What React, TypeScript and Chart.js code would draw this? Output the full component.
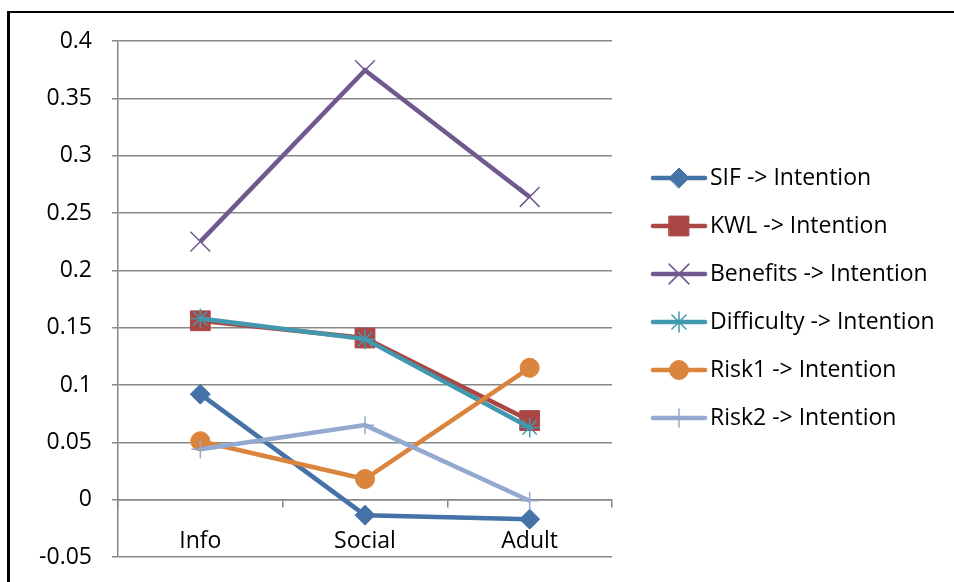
import { useEffect, useRef } from "react";
import { Chart, registerables } from "chart.js";
import { drawPoint } from "chart.js/helpers";

Chart.register(...registerables);

// Categories and path coefficients per segment
const categories = ["Info", "Social", "Adult"];
const seriesLabels = [
  "SIF -> Intention",
  "KWL -> Intention",
  "Benefits -> Intention",
  "Difficulty -> Intention",
  "Risk1 -> Intention",
  "Risk2 -> Intention",
];
const sifValues = [0.092, -0.0135, -0.017];
const kwlValues = [0.156, 0.141, 0.069];
const benefitsValues = [0.225, 0.3745, 0.264];
const difficultyValues = [0.158, 0.14, 0.063];
const risk1Values = [0.051, 0.018, 0.115];
const risk2Values = [0.044, 0.065, -0.001];
const yTickValues = [-0.05, 0, 0.05, 0.1, 0.15, 0.2, 0.25, 0.3, 0.35, 0.4];
const yTickLabels = ["-0.05", "0", "0.05", "0.1", "0.15", "0.2", "0.25", "0.3", "0.35", "0.4"];

const FONT = "'Open Sans', 'Liberation Sans', sans-serif";
const FONT_SIZE = 23;
const GRID = "#878787";

const seriesStyles = [
  { color: "#4572A7", pointStyle: "rectRot", radius: 10, pw: 1 },
  { color: "#AA4643", pointStyle: "rect", radius: 14, pw: 1 },
  { color: "#71588F", pointStyle: "crossRot", radius: 14, pw: 1.5 },
  { color: "#4198AF", pointStyle: "star", radius: 10, pw: 1.5 },
  { color: "#DB843D", pointStyle: "circle", radius: 9.5, pw: 1 },
  { color: "#93A9CF", pointStyle: "cross", radius: 9, pw: 1.5 },
];

const seriesValues = [sifValues, kwlValues, benefitsValues, difficultyValues, risk1Values, risk2Values];

// Legend drawn at the right side: line sample, marker, then label
const sideLegend = {
  id: "sideLegend",
  afterDraw(chart: any) {
    const ctx = chart.ctx;
    chart.data.datasets.forEach((ds: any, i: number) => {
      const y = 178 + i * 48;
      ctx.save();
      ctx.strokeStyle = ds.borderColor;
      ctx.lineWidth = ds.borderWidth;
      ctx.lineCap = "round";
      ctx.beginPath();
      ctx.moveTo(653, y);
      ctx.lineTo(705, y);
      ctx.stroke();
      ctx.fillStyle = ds.pointBackgroundColor;
      ctx.strokeStyle = ds.pointBorderColor;
      ctx.lineWidth = ds.pointBorderWidth;
      drawPoint(
        ctx,
        { pointStyle: ds.pointStyle, radius: ds.pointRadius, rotation: 0, borderWidth: ds.pointBorderWidth },
        679,
        y
      );
      ctx.fillStyle = "#000";
      ctx.font = `${FONT_SIZE}px ${FONT}`;
      ctx.textBaseline = "middle";
      ctx.textAlign = "left";
      ctx.fillText(ds.label, 710, y);
      ctx.restore();
    });
  },
};

export default function App() {
  const canvasRef = useRef<HTMLCanvasElement | null>(null);

  useEffect(() => {
    const canvas = canvasRef.current;
    if (!canvas) return;
    const chart = new Chart(canvas, {
      type: "line",
      data: {
        labels: categories,
        datasets: seriesLabels.map((label, i) => {
          const s = seriesStyles[i];
          return {
            label,
            data: seriesValues[i],
            borderColor: s.color,
            backgroundColor: s.color,
            borderWidth: 4.5,
            pointStyle: s.pointStyle,
            pointRadius: s.radius,
            pointHoverRadius: s.radius,
            pointBackgroundColor: s.color,
            pointBorderColor: s.color,
            pointBorderWidth: s.pw,
            tension: 0,
            order: -i,
          };
        }),
      },
      options: {
        animation: false,
        responsive: false,
        maintainAspectRatio: false,
        layout: { padding: { top: 41, bottom: 25, left: 3, right: 342 } },
        plugins: { legend: { display: false }, tooltip: { enabled: false } },
        font: { family: FONT, size: FONT_SIZE },
        scales: {
          x: {
            type: "category",
            offset: true,
            position: { y: 0 },
            grid: {
              display: true,
              drawOnChartArea: false,
              drawTicks: true,
              tickLength: 7,
              offset: true,
              color: GRID,
              lineWidth: 1.5,
            },
            border: { display: true, color: GRID, width: 1.5 },
            ticks: { padding: 21, color: "#000", font: { family: FONT, size: FONT_SIZE } },
          },
          y: {
            min: -0.05,
            max: 0.4,
            afterBuildTicks: (scale: any) => {
              scale.ticks = yTickValues.map((v) => ({ value: v }));
            },
            afterFit: (scale: any) => {
              scale.width = 115;
              scale.paddingTop = 0;
              scale.paddingBottom = 0;
            },
            grid: { color: GRID, lineWidth: 1.5, tickLength: 6 },
            border: { display: true, color: GRID, width: 1.5 },
            ticks: {
              padding: 20,
              color: "#000",
              font: { family: FONT, size: FONT_SIZE },
              callback: (_v: any, idx: number) => yTickLabels[idx],
            },
          },
        },
      } as any,
      plugins: [sideLegend],
    });
    return () => chart.destroy();
  }, []);

  return (
    <div style={{ position: "fixed", left: 0, top: 0, width: 954, height: 582, background: "#fff", overflow: "hidden" }}>
      <div
        style={{
          position: "absolute",
          left: 7,
          top: 11,
          width: 1000,
          height: 1000,
          borderLeft: "3px solid #000",
          borderTop: "2px solid #000",
        }}
      />
      <canvas ref={canvasRef} width={954} height={582} style={{ position: "absolute", left: 0, top: 0 }} />
    </div>
  );
}
